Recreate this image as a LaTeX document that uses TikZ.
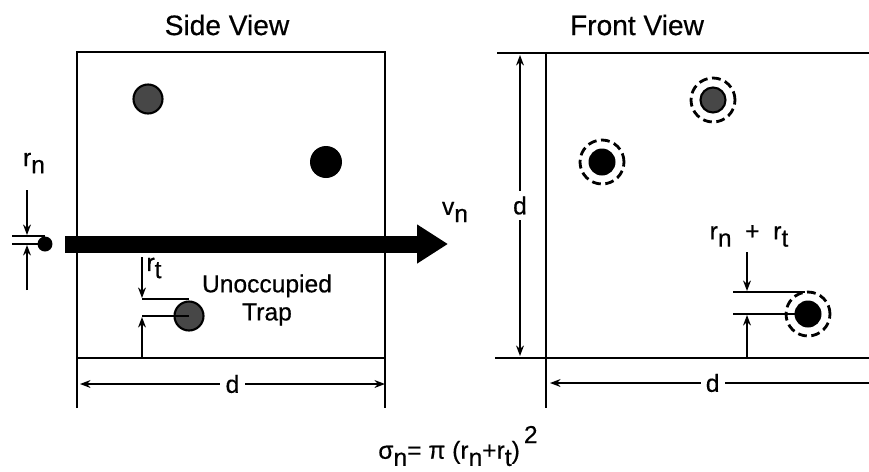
\documentclass[tikz,border=0pt]{standalone}
\usepackage{fontspec}
\setmainfont{Liberation Sans}[FakeBold=0.5]
\usetikzlibrary{arrows.meta,calc}
\newcommand{\lowsub}[1]{\raisebox{-0.55ex}{#1}}
\tikzset{
  frame/.style={line width=1.2pt},
  dimline/.style={line width=0.9pt},
  dimarrow/.style={line width=0.9pt,-{Stealth[length=6pt,width=4.5pt]}},
  dimboth/.style={line width=0.9pt,{Stealth[length=6pt,width=4.5pt]}-{Stealth[length=6pt,width=4.5pt]}},
  trap/.style={circle,fill=black!72,draw=black,line width=1.2pt,inner sep=0pt,minimum size=#1},
  filled/.style={circle,fill=black,inner sep=0pt,minimum size=#1},
  ring/.style={circle,draw,dash pattern=on 5pt off 2.6pt,line width=1.6pt,inner sep=0pt,minimum size=0.88cm},
  txt/.style={font=\fontsize{14}{16}\selectfont,inner sep=1pt},
  title/.style={font=\fontsize{16}{18}\selectfont,inner sep=1pt}
}
\begin{document}
\begin{tikzpicture}[x=0.02cm,y=-0.02cm]
  \useasboundingbox (0,0) rectangle (869,471);
  % side view
  \node[title] (sidetitle) at (227,25) {Side View};
  \coordinate (sTL) at (77,52);
  \coordinate (sTR) at (385,52);
  \coordinate (sBL) at (77,358);
  \coordinate (sBR) at (385,358);
  \coordinate (sLfoot) at (77,408);
  \coordinate (sRfoot) at (385,408);
  \draw[frame] (sLfoot) -- (sTL) -- (sTR) -- (sRfoot);
  \draw[frame] (sBL) -- (sBR);
  \node[trap=0.58cm] (t1) at (148,99) {};
  \node[filled=0.64cm] (t2) at (326,162) {};
  \node[trap=0.58cm] (t3) at (189,316) {};
  \node[txt,align=center] (unocc) at (267,300) {Unoccupied\\Trap};
  % beam
  \coordinate (beamS) at (65,244);
  \coordinate (beamE) at (448,244);
  \draw[line width=0.34cm,-{Triangle[length=0.62cm,width=0.74cm]}] (beamS) -- (beamE);
  \node[txt] (vn) at (455,212) {v\lowsub{n}};
  % incident particle
  \node[filled=0.3cm] (part) at (45,244) {};
  \coordinate (pUp) at (12,236);
  \coordinate (pUpE) at (45,236);
  \coordinate (pLo) at (12,244);
  \draw[dimline] (pUp) -- (pUpE);
  \draw[dimline] (pLo) -- (part.center);
  \coordinate (rnA) at (27,190);
  \coordinate (rnB) at (27,235);
  \coordinate (rnC) at (27,290);
  \coordinate (rnD) at (27,245);
  \draw[dimarrow] (rnA) -- (rnB);
  \draw[dimarrow] (rnC) -- (rnD);
  \node[txt] (rn) at (34,163) {r\lowsub{n}};
  % trap radius
  \coordinate (rtUp) at (142,299);
  \coordinate (rtUpE) at (189,299);
  \coordinate (rtLo) at (142,316);
  \draw[dimline] (rtUp) -- (rtUpE);
  \draw[dimline] (rtLo) -- (t3.center);
  \coordinate (rtA) at (142,257);
  \coordinate (rtB) at (142,298);
  \coordinate (rtC) at (142,358);
  \coordinate (rtD) at (142,317);
  \draw[dimarrow] (rtA) -- (rtB);
  \draw[dimarrow] (rtC) -- (rtD);
  \node[txt] (rt) at (154,268) {r\lowsub{t}};
  % side width
  \coordinate (sdL) at (80,384);
  \coordinate (sdR) at (385,384);
  \draw[dimboth] (sdL) -- node[txt,fill=white,inner sep=3pt] (sd) {d} (sdR);
  % front view
  \node[title] (fronttitle) at (637,25) {Front View};
  \coordinate (fTL) at (497,53);
  \coordinate (fTR) at (869,53);
  \coordinate (fBL) at (495,358);
  \coordinate (fBR) at (869,358);
  \coordinate (fLtop) at (546,53);
  \coordinate (fLfoot) at (546,408);
  \draw[frame] (fTL) -- (fTR);
  \draw[frame] (fBL) -- (fBR);
  \draw[frame] (fLtop) -- (fLfoot);
  \node[ring] (r1) at (713,100) {};
  \node[trap=0.5cm] (f1) at (713,100) {};
  \node[ring] (r2) at (602,162) {};
  \node[filled=0.54cm] (f2) at (602,162) {};
  \node[ring] (r3) at (808,314) {};
  \node[filled=0.54cm] (f3) at (808,314) {};
  % front heights
  \coordinate (fdT) at (520,55);
  \coordinate (fdB) at (520,356);
  \draw[dimboth] (fdT) -- node[txt,fill=white,inner sep=3pt] (fdv) {d} (fdB);
  \coordinate (fdR) at (869,383);
  \coordinate (fdL) at (550,383);
  \draw[dimarrow] (fdR) -- node[txt,fill=white,inner sep=3pt,pos=0.49] (fdh) {d} (fdL);
  % capture radius
  \coordinate (crUp) at (733,292);
  \coordinate (crUpE) at (805,292);
  \coordinate (crLo) at (733,314);
  \draw[dimline] (crUp) -- (crUpE);
  \draw[dimline] (crLo) -- (f3.center);
  \coordinate (crA) at (747,252);
  \coordinate (crB) at (747,291);
  \coordinate (crC) at (747,358);
  \coordinate (crD) at (747,315);
  \draw[dimarrow] (crA) -- (crB);
  \draw[dimarrow] (crC) -- (crD);
  \node[txt] (cr) at (749,236) {r\lowsub{n}\ \ +\ \ r\lowsub{t}};
  % cross section
  \node[txt] (sigma) at (458,446) {σ\lowsub{n}= π (r\lowsub{n}+r\lowsub{t})\,\raisebox{1.2ex}{2}};
\end{tikzpicture}
\end{document}
